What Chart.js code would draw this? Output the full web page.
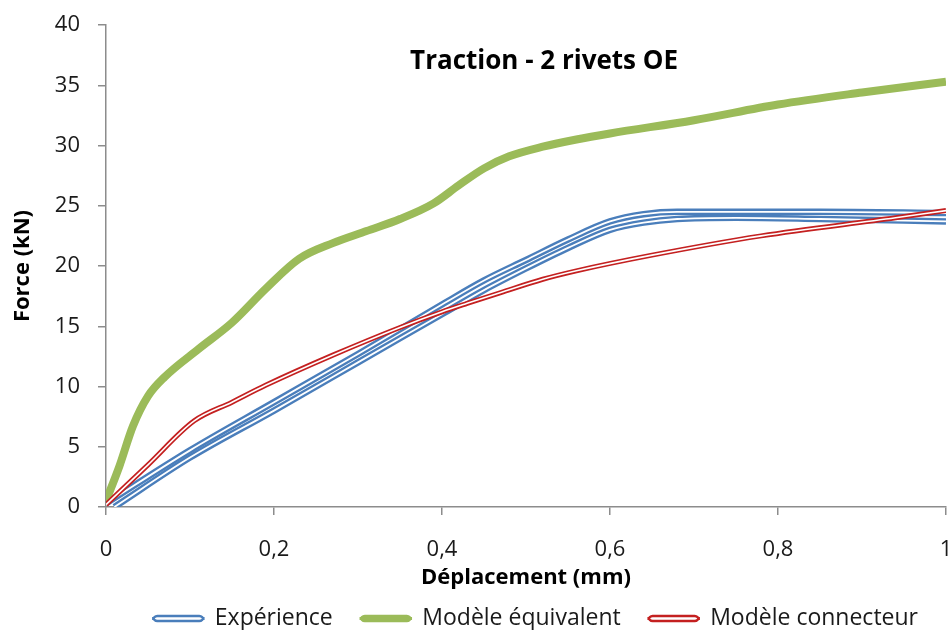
<!DOCTYPE html>
<html>
<head>
<meta charset="utf-8">
<script src="https://cdn.jsdelivr.net/npm/chart.js@4.4.1/dist/chart.umd.min.js"></script>
<style>
  html, body { margin: 0; padding: 0; background: #fff; }
</style>
</head>
<body>
<canvas id="chart_traction" width="952" height="630"></canvas>
<script>
// values (displacement in mm, force in kN)
const chartTitle = 'Traction - 2 rivets OE';
const xTickLabels = ['0', '0,2', '0,4', '0,6', '0,8', '1'];
const yTickLabels = ['0', '5', '10', '15', '20', '25', '30', '35', '40'];

// two test curves, both shown as "Expérience"
const expDisp1 = [0, 0.1, 0.2, 0.3, 0.4, 0.45, 0.5, 0.55, 0.6, 0.64, 0.68, 0.75, 0.85, 1];
const expForce1 = [0.3, 4.7, 8.7, 12.7, 16.8, 18.8, 20.5, 22.2, 23.7, 24.3, 24.5, 24.5, 24.5, 24.4];
const expDisp2 = [0.01, 0.1, 0.2, 0.3, 0.4, 0.45, 0.5, 0.55, 0.6, 0.64, 0.68, 0.75, 0.85, 1];
const expForce2 = [0, 4.1, 8.0, 12.0, 16.0, 18.0, 19.8, 21.5, 23.0, 23.6, 23.9, 24.0, 23.9, 23.7];

const eqDisp = [0, 0.016, 0.032, 0.05, 0.07, 0.11, 0.15, 0.19, 0.23, 0.27, 0.31, 0.35, 0.39, 0.42, 0.45, 0.48, 0.52, 0.56, 0.6, 0.7, 0.8, 0.9, 1];
const eqForce = [0.5, 3.4, 6.7, 9.2, 10.8, 13.1, 15.3, 18.1, 20.6, 21.9, 22.9, 23.9, 25.2, 26.7, 28.1, 29.1, 29.9, 30.5, 31.0, 32.1, 33.4, 34.4, 35.3];

const conDisp = [0, 0.05, 0.105, 0.15, 0.19, 0.27, 0.35, 0.4, 0.43, 0.47, 0.52, 0.56, 0.65, 0.78, 0.94, 1];
const conForce = [0.2, 3.5, 7.15, 8.7, 10.1, 12.6, 14.9, 16.2, 16.9, 17.8, 18.9, 19.6, 20.9, 22.5, 24.0, 24.6];

const BLUE = '#4A7EBB';
const GREEN = '#9BBB59';
const RED = '#C42020';
const AXIS = '#8C8C8C';
const FONT = '"Open Sans"';

const pts = (xs, ys) => xs.map((x, i) => ({x: x, y: ys[i]}));

const line = (label, data, color, width, order) => ({
    label: label,
    data: data,
    borderColor: color,
    backgroundColor: color,
    borderWidth: width,
    pointRadius: 0,
    cubicInterpolationMode: 'monotone',
    order: order,
});

// double lines = wide coloured stroke + thin white stroke on top
const datasets = [
    line('Expérience', pts(expDisp1, expForce1), BLUE, 6.5, 6),
    line('exp2', pts(expDisp2, expForce2), BLUE, 6.5, 5),
    line('exp1-core', pts(expDisp1, expForce1), '#fff', 1.8, 4),
    line('exp2-core', pts(expDisp2, expForce2), '#fff', 1.8, 3),
    line('Modèle équivalent', pts(eqDisp, eqForce), GREEN, 8, 2),
    line('Modèle connecteur', pts(conDisp, conForce), RED, 5, 1),
    line('con-core', pts(conDisp, conForce), '#fff', 1.6, 0),
];

const titlePlugin = {
    id: 'insideTitle',
    afterDraw(chart) {
        const {ctx, chartArea} = chart;
        ctx.save();
        ctx.font = 'bold 26px ' + FONT;
        ctx.fillStyle = '#000';
        ctx.textAlign = 'center';
        ctx.textBaseline = 'middle';
        ctx.fillText(chartTitle, chartArea.left + chartArea.width * 0.5215, chartArea.top + 37);
        ctx.restore();
    }
};

const options = {
    responsive: false,
    animation: false,
    layout: {
        padding: {left: 0, right: 6, top: 25, bottom: -10},
    },
    plugins: {
        title: {display: false},
        tooltip: {enabled: false},
        legend: {
            position: 'bottom',
            align: 'end',
            labels: {
                font: {family: FONT, size: 23},
                color: '#1a1a1a',
                boxWidth: 50,
                boxHeight: 5,
                padding: 28,
                generateLabels: () => [
                    {text: 'Expérience', fillStyle: '#fff', strokeStyle: BLUE, lineWidth: 2.5, borderRadius: 4, datasetIndex: 0, fontColor: '#1a1a1a'},
                    {text: 'Modèle équivalent', fillStyle: GREEN, strokeStyle: GREEN, lineWidth: 2.5, borderRadius: 4, datasetIndex: 4, fontColor: '#1a1a1a'},
                    {text: 'Modèle connecteur', fillStyle: '#fff', strokeStyle: RED, lineWidth: 2.5, borderRadius: 4, datasetIndex: 5, fontColor: '#1a1a1a'},
                ],
            },
        },
    },
    scales: {
        x: {
            type: 'linear',
            min: 0,
            max: 1,
            afterFit: (scale) => {
                scale.height = 72;
                scale.paddingLeft = 0;
                scale.paddingRight = 0;
            },
            ticks: {
                stepSize: 0.2,
                padding: 22,
                color: '#1a1a1a',
                font: {family: FONT, size: 22},
                callback: (v, i) => xTickLabels[i],
            },
            grid: {display: true, drawOnChartArea: false, drawTicks: true, tickLength: 8, color: AXIS, lineWidth: 1.5},
            border: {color: AXIS, width: 1.5},
            title: {
                display: true,
                text: 'Déplacement (mm)',
                color: '#000',
                font: {family: FONT, size: 22, weight: 'bold'},
                padding: {top: 0, bottom: -12},
            },
        },
        y: {
            min: 0,
            max: 40,
            afterFit: (scale) => {
                scale.width = 106;
                scale.paddingTop = 0;
                scale.paddingBottom = 0;
            },
            ticks: {
                stepSize: 5,
                padding: 18,
                color: '#1a1a1a',
                font: {family: FONT, size: 22},
                callback: (v, i) => yTickLabels[i],
            },
            grid: {display: true, drawOnChartArea: false, drawTicks: true, tickLength: 8, color: AXIS, lineWidth: 1.5},
            border: {color: AXIS, width: 1.5},
            title: {
                display: true,
                text: 'Force (kN)',
                color: '#000',
                font: {family: FONT, size: 22, weight: 'bold'},
                padding: {top: 10, bottom: 0},
            },
        },
    },
};

const canvas = document.getElementById('chart_traction');
const chart = new Chart(canvas, {
    type: 'line',
    data: {datasets: datasets},
    options: options,
    plugins: [titlePlugin],
});
</script>
</body>
</html>
